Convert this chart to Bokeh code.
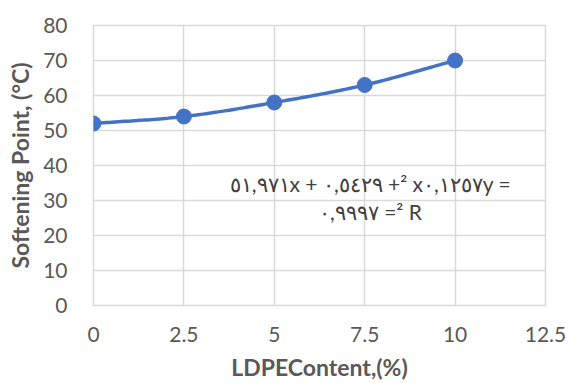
import numpy as np
from bokeh.plotting import figure
from bokeh.models import Range1d, FixedTicker, CustomJSTickFormatter
from bokeh.core.properties import value
from bokeh.embed import file_html
from bokeh.resources import INLINE

ldpe = [0, 2.5, 5, 7.5, 10]
softening = [52, 54, 58, 63, 70]
x_ticks = [0, 2.5, 5, 7.5, 10, 12.5]
y_ticks = [0, 10, 20, 30, 40, 50, 60, 70, 80]
eq_line1 = "\u202d٥١,٩٧١x + ٠,٥٤٢٩ +² x٠,١٢٥٧y =\u202c"
eq_line2 = "\u202d٠,٩٩٩٧ =² R\u202c"

FONT = "Lato"
BLUE = "#4472C4"
GRID = "#d9d9d9"
TXT = "#595959"

# Smooth curve through data (Catmull-Rom)
def catmull(xs, ys, n=30):
    xs = np.asarray(xs, float); ys = np.asarray(ys, float)
    px = np.concatenate([[2*xs[0]-xs[1]], xs, [2*xs[-1]-xs[-2]]])
    py = np.concatenate([[2*ys[0]-ys[1]], ys, [2*ys[-1]-ys[-2]]])
    outx, outy = [], []
    for i in range(1, len(px)-2):
        t = np.linspace(0, 1, n)
        for arr, out in ((px, outx), (py, outy)):
            p0, p1, p2, p3 = arr[i-1], arr[i], arr[i+1], arr[i+2]
            out.extend(0.5*((2*p1) + (-p0+p2)*t + (2*p0-5*p1+4*p2-p3)*t**2 + (-p0+3*p1-3*p2+p3)*t**3))
    return outx, outy

sx, sy = catmull(ldpe, softening)

p = figure(width=568, height=383, output_backend="svg", toolbar_location=None,
           x_range=Range1d(0, 12.5), y_range=Range1d(0, 80),
           min_border_left=93, min_border_right=23, min_border_top=25, min_border_bottom=78)
p.background_fill_color = "white"
p.border_fill_color = "white"
p.outline_line_color = GRID
p.outline_line_width = 1.5

p.xaxis.ticker = FixedTicker(ticks=x_ticks)
p.yaxis.ticker = FixedTicker(ticks=y_ticks)
p.xaxis.formatter = CustomJSTickFormatter(code="return tick.toString();")
for ax in (p.xaxis, p.yaxis):
    ax.axis_line_color = None
    ax.major_tick_line_color = None
    ax.minor_tick_line_color = None
    ax.major_label_text_font = FONT
    ax.major_label_text_font_size = "21px"
    ax.major_label_text_color = TXT
    ax.axis_label_text_font = FONT
    ax.axis_label_text_font_style = "bold"
    ax.axis_label_text_font_size = "23px"
    ax.axis_label_text_color = TXT
p.xaxis.major_label_standoff = 15
p.yaxis.major_label_standoff = 20
p.xaxis.axis_label = "LDPEContent,(%)"
p.yaxis.axis_label = "Softening Point, (°C)"
p.xaxis.axis_label_standoff = 8
p.yaxis.axis_label_standoff = 6

p.xgrid.grid_line_color = GRID
p.ygrid.grid_line_color = GRID
p.xgrid.grid_line_width = 1.5
p.ygrid.grid_line_width = 1.5

p.line(sx, sy, line_color=BLUE, line_width=3.5)
p.scatter(ldpe, softening, size=15, fill_color=BLUE, line_color=BLUE)

p.text(x=[7.66], y=[35.0], text=[eq_line1], text_font=value(FONT), text_font_size="21px",
       text_color="#404040", text_align="center", text_baseline="middle")
p.text(x=[7.66], y=[27.0], text=[eq_line2], text_font=value(FONT), text_font_size="21px",
       text_color="#404040", text_align="center", text_baseline="middle")

open("out.html", "w").write(file_html(p, INLINE))
